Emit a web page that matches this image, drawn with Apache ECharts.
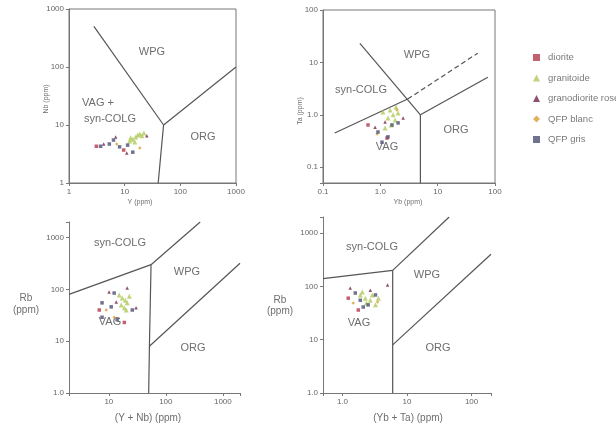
<!DOCTYPE html>
<html><head><meta charset="utf-8">
<script src="https://cdn.jsdelivr.net/npm/echarts@6/dist/echarts.min.js"></script>
<style>html,body{margin:0;padding:0;background:#fff}#c{width:616px;height:428px}</style>
</head><body><div id="c"></div>
<script>
// ---- series (rock types) ----
const seriesNames = ['diorite', 'granitoide', 'granodiorite rose', 'QFP blanc', 'QFP gris'];
const seriesColors = ['#b84558', '#b5cc66', '#7d3356', '#dba440', '#565a7c'];
const seriesSymbols = ['rect', 'triangle', 'triangle', 'diamond', 'rect'];

// ---- Panel 1: Nb (ppm) vs Y (ppm) ----
const p1Diorite = [[3.1, 4.3], [9.6, 3.7]];
const p1Granitoide = [[12.3, 5.3], [14, 5.7], [15.8, 6.2], [17.2, 6.7], [18.7, 7.0], [20.4, 6.5], [15.2, 5.1], [12.8, 6.0], [22.2, 7.3]];
const p1GranoRose = [[4.2, 4.7], [6.9, 6.2], [10.9, 3.3], [25, 6.5]];
const p1QfpBlanc = [[7.2, 4.7], [18.7, 4.0]];
const p1QfpGris = [[3.7, 4.3], [5.3, 4.7], [6.3, 5.5], [8.1, 4.2], [14, 3.4], [11.3, 4.5]];
const p1Lines = [[[2.8, 500], [50, 10]], [[50, 10], [1000, 100]], [[50, 10], [40, 1]]];

// ---- Panel 2: Ta (ppm) vs Yb (ppm) ----
const p2Diorite = [[0.61, 0.64], [1.31, 0.36]];
const p2Granitoide = [[1.48, 1.24], [1.67, 1.0], [1.81, 0.8], [1.36, 0.87], [1.88, 1.41], [1.55, 0.64], [1.21, 0.56], [2.04, 1.08], [1.11, 1.13]];
const p2GranoRose = [[0.81, 0.58], [1.21, 0.73], [2.5, 0.87]];
const p2QfpBlanc = [[0.88, 0.43], [1.95, 1.24]];
const p2QfpGris = [[0.91, 0.47], [1.36, 0.38], [1.07, 0.30], [1.6, 0.64], [2.04, 0.70]];
const p2Lines = [[[0.44, 23], [5, 1]], [[5, 1], [5, 0.05]], [[5, 1], [75, 5.2]], [[0.16, 0.45], [3, 2]]];
const p2Dashed = [[[3, 2], [50, 15]]];

// ---- Panel 3: Rb (ppm) vs (Y + Nb) (ppm) ----
const p3Diorite = [[6.8, 40], [18.7, 23]];
const p3Granitoide = [[15.2, 78], [17.2, 68], [19.5, 62], [21, 55], [18.7, 44], [16.5, 50], [22.9, 74], [20.2, 40]];
const p3GranoRose = [[10.1, 89], [13.5, 57], [21, 106], [30, 44]];
const p3QfpBlanc = [[9.0, 40], [12.4, 29]];
const p3QfpGris = [[12.4, 85], [7.6, 55], [11, 46], [14, 26], [25.8, 40], [7.6, 29]];
const p3Lines = [[[2, 80], [55, 300]], [[55, 300], [400, 2000]], [[55, 300], [51.5, 8], [50, 1]], [[51.5, 8], [2000, 320]]];

// ---- Panel 4: Rb (ppm) vs (Yb + Ta) (ppm) ----
const p4Diorite = [[1.23, 60], [1.76, 36]];
const p4Granitoide = [[1.89, 69], [2.26, 60], [2.7, 55], [2.9, 69], [2.35, 49], [3.25, 45], [2.03, 78], [3.6, 60]];
const p4GranoRose = [[1.32, 93], [2.7, 85], [5.0, 106]];
const p4QfpBlanc = [[1.47, 49], [3.5, 51]];
const p4QfpGris = [[1.58, 75], [1.89, 55], [2.1, 41], [3.25, 69], [2.5, 45]];
const p4Lines = [[[0.5, 140], [6, 200]], [[6, 200], [45, 2000]], [[6, 200], [6, 1]], [[6, 8], [200, 400]]];

// ---- tick labels ----
const p1XLabels = ['1', '10', '100', '1000'];
const p1YLabels = ['1', '10', '100', '1000'];
const p2XLabels = ['0.1', '1.0', '10', '100'];
const p2YLabels = ['0.1', '1.0', '10', '100'];
const p3XLabels = ['10', '100', '1000'];
const p3YLabels = ['1.0', '10', '100', '1000'];
const p4XLabels = ['1.0', '10', '100'];
const p4YLabels = ['1.0', '10', '100', '1000'];

const FONT = 'Liberation Sans, Arial, sans-serif';

function labelFmt(list) {
  return function (v) {
    const l = Math.log10(v);
    const r = Math.round(l);
    if (Math.abs(l - r) > 1e-6) return '';
    const txt = list.find(t => Math.abs(Math.log10(parseFloat(t)) - r) < 1e-6);
    return txt || '';
  };
}
function logAxis(gi, min, max, labels) {
  return {
    type: 'log', logBase: 10, gridIndex: gi, min: min, max: max,
    axisLine: { show: true, onZero: false, lineStyle: { color: '#777', width: 1 } },
    axisTick: { show: true, length: 3, lineStyle: { color: '#777' } },
    axisLabel: { fontSize: 8, color: '#666', fontFamily: FONT, margin: 5, formatter: labelFmt(labels), showMinLabel: true, showMaxLabel: true },
    splitLine: { show: false }, minorTick: { show: false }
  };
}

const grids = [
  { left: 69, top: 9, width: 167, height: 174, show: true, borderColor: '#777', borderWidth: 1, backgroundColor: 'transparent' },
  { left: 323, top: 10, width: 172, height: 173, show: true, borderColor: '#777', borderWidth: 1, backgroundColor: 'transparent' },
  { left: 69, top: 222, width: 171, height: 171 },
  { left: 323, top: 217, width: 168, height: 176 }
];
const xAxes = [
  logAxis(0, 1, 1000, p1XLabels),
  logAxis(1, 0.1, 100, p2XLabels),
  logAxis(2, 2, 2000, p3XLabels),
  logAxis(3, 0.5, 200, p4XLabels)
];
const yAxes = [
  logAxis(0, 1, 1000, p1YLabels),
  logAxis(1, 0.05, 100, p2YLabels),
  logAxis(2, 1, 2000, p3YLabels),
  logAxis(3, 1, 2000, p4YLabels)
];

const panelPoints = [
  [p1Diorite, p1Granitoide, p1GranoRose, p1QfpBlanc, p1QfpGris],
  [p2Diorite, p2Granitoide, p2GranoRose, p2QfpBlanc, p2QfpGris],
  [p3Diorite, p3Granitoide, p3GranoRose, p3QfpBlanc, p3QfpGris],
  [p4Diorite, p4Granitoide, p4GranoRose, p4QfpBlanc, p4QfpGris]
];
const panelLines = [p1Lines, p2Lines, p3Lines, p4Lines];

const series = [];
panelLines.forEach((lines, gi) => {
  lines.forEach(seg => series.push({
    type: 'line', xAxisIndex: gi, yAxisIndex: gi, data: seg, symbol: 'none', silent: true, z: 2,
    lineStyle: { color: '#555', width: 1.2 }
  }));
});
p2Dashed.forEach(seg => series.push({
  type: 'line', xAxisIndex: 1, yAxisIndex: 1, data: seg, symbol: 'none', silent: true, z: 2,
  lineStyle: { color: '#555', width: 1.2, type: [5, 3] }
}));
panelPoints.forEach((pts, gi) => {
  pts.forEach((arr, si) => series.push({
    type: 'scatter', name: seriesNames[si], xAxisIndex: gi, yAxisIndex: gi, data: arr, z: 5,
    symbol: seriesSymbols[si], symbolSize: si === 1 ? 5 : 3.5,
    itemStyle: { color: seriesColors[si], opacity: 0.85 }
  }));
});

function txt(x, y, text, size, rot) {
  return { type: 'text', x: x, y: y, rotation: rot || 0, silent: true,
    style: { text: text, fontSize: size, fontFamily: FONT, fill: '#6e6e6e', align: 'center', verticalAlign: 'middle' } };
}
const graphics = [
  // panel 1
  txt(152, 52, 'WPG', 11), txt(98, 103, 'VAG +', 11), txt(110, 119, 'syn-COLG', 11), txt(203, 137, 'ORG', 11),
  txt(46, 99, 'Nb (ppm)', 7, Math.PI / 2), txt(140, 202, 'Y (ppm)', 7),
  // panel 2
  txt(417, 55, 'WPG', 11), txt(361, 90, 'syn-COLG', 11), txt(387, 147, 'VAG', 11), txt(456, 130, 'ORG', 11),
  txt(300, 111, 'Ta (ppm)', 7, Math.PI / 2), txt(408, 202, 'Yb (ppm)', 7),
  // panel 3
  txt(120, 243, 'syn-COLG', 11), txt(187, 272, 'WPG', 11), txt(110, 322, 'VAG', 11), txt(193, 348, 'ORG', 11),
  txt(26, 298, 'Rb', 10), txt(26, 310, '(ppm)', 10), txt(148, 418, '(Y + Nb) (ppm)', 10),
  // panel 4
  txt(372, 247, 'syn-COLG', 11), txt(427, 275, 'WPG', 11), txt(359, 323, 'VAG', 11), txt(438, 348, 'ORG', 11),
  txt(280, 300, 'Rb', 10), txt(280, 311, '(ppm)', 10), txt(408, 418, '(Yb + Ta) (ppm)', 10)
];

const chart = echarts.init(document.getElementById('c'), null, { renderer: 'canvas' });
chart.setOption({
  animation: false,
  backgroundColor: '#fff',
  grid: grids,
  xAxis: xAxes,
  yAxis: yAxes,
  legend: {
    orient: 'vertical', left: 528, top: 47, itemWidth: 7, itemHeight: 7, itemGap: 9.5,
    data: seriesNames.map((n, i) => ({ name: n, icon: seriesSymbols[i] })),
    textStyle: { fontSize: 9.5, color: '#7a7a7a', fontFamily: FONT, lineHeight: 11, padding: [0, 0, 0, 3] }
  },
  graphic: graphics,
  series: series
});
</script></body></html>
